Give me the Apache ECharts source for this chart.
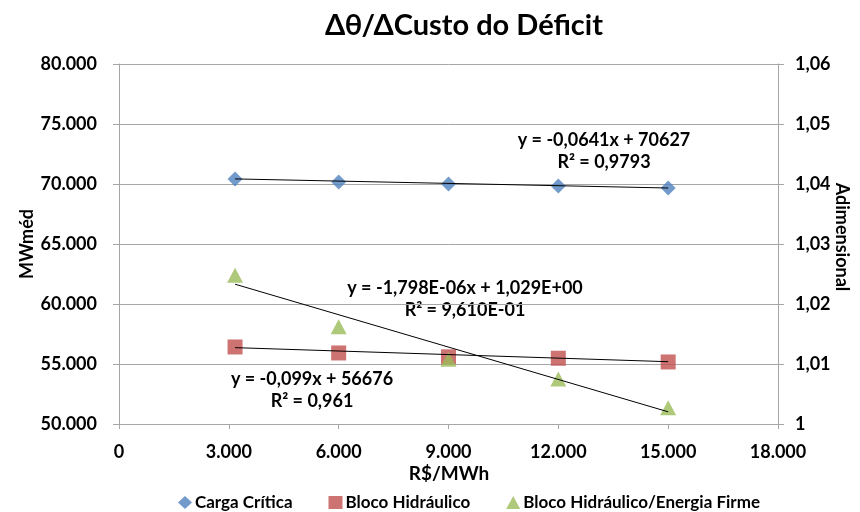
<!DOCTYPE html>
<html>
<head>
<meta charset="utf-8">
<script src="https://cdn.jsdelivr.net/npm/echarts@6/dist/echarts.min.js"></script>
<style>
  html, body { margin: 0; padding: 0; background: #fff; }
  #chart { width: 860px; height: 512px; }
</style>
</head>
<body>
<div id="chart"></div>
<script>
// valores
var custo = [3170, 6000, 9000, 12000, 15000];
var cargaCritica = [70420, 70170, 70000, 69830, 69670];
var blocoHidraulico = [56420, 55920, 55600, 55480, 55170];
var blocoFirme = [1.0248, 1.0162, 1.0108, 1.0075, 1.0027];

// linhas de tendência (coeficientes das equações do gráfico)
var tendCarga = [-0.0641, 70627];
var tendBloco = [-0.099, 56676];
var tendFirme = [-1.798e-6, 1.029];

var nomes = ['Carga Crítica', 'Bloco Hidráulico', 'Bloco Hidráulico/Energia Firme'];
var cores = ['#4F81BD', '#C0504D', '#9BBB59'];

function pares(ys) {
    return custo.map(function (x, i) { return [x, ys[i]]; });
}
function tendencia(c) {
    var x0 = custo[0], x1 = custo[custo.length - 1];
    return [[x0, c[0] * x0 + c[1]], [x1, c[0] * x1 + c[1]]];
}
function milhar(v) {
    return String(Math.round(v)).replace(/\B(?=(\d{3})+(?!\d))/g, '.');
}

var fonte = 'Lato';
var corTexto = '#000';
var cinza = '#A6A6A6';

var chart = echarts.init(document.getElementById('chart'));

var trendStyle = { color: '#000', width: 1 };
var rotulo = { fontSize: 18, fontWeight: 'bold', color: corTexto, fontFamily: fonte };

function texto(x, y, t, tam, rot) {
    return {
        type: 'text', x: x, y: y, rotation: rot || 0,
        style: { text: t, align: 'center', verticalAlign: 'middle', lineHeight: 22,
                 font: 'bold ' + tam + 'px Lato', fill: corTexto }
    };
}

chart.setOption({
    animation: false,
    textStyle: { fontFamily: fonte, fontWeight: 'bold' },
    grid: { left: 119, right: 82, top: 64, bottom: 88 },
    legend: {
        top: 494,
        left: 178,
        padding: 0,
        itemGap: 36,
        itemWidth: 14,
        itemHeight: 13,
        data: [
            { name: nomes[0], icon: 'diamond' },
            { name: nomes[1], icon: 'rect' },
            { name: nomes[2], icon: 'triangle' }
        ],
        textStyle: { fontSize: 17, fontWeight: 'bold', color: corTexto, fontFamily: fonte, padding: [0, 0, 0, -2] }
    },
    xAxis: {
        type: 'value',
        min: 0, max: 18000, interval: 3000,
        axisLine: { lineStyle: { color: cinza } },
        axisTick: { show: true, lineStyle: { color: cinza }, length: 5 },
        splitLine: { show: false },
        axisLabel: Object.assign({ margin: 19, formatter: milhar }, rotulo)
    },
    yAxis: [{
        type: 'value',
        min: 50000, max: 80000, interval: 5000,
        axisLine: { show: true, lineStyle: { color: cinza } },
        axisTick: { show: true, lineStyle: { color: cinza }, length: 6 },
        splitLine: { lineStyle: { color: cinza } },
        axisLabel: Object.assign({ margin: 22, formatter: milhar }, rotulo)
    }, {
        type: 'value',
        min: 1, max: 1.06, interval: 0.01,
        axisLine: { show: true, lineStyle: { color: cinza } },
        axisTick: { show: true, lineStyle: { color: cinza }, length: 6 },
        splitLine: { show: false },
        axisLabel: Object.assign({
            margin: 17,
            formatter: function (v) {
                return v === 1 ? '1' : v.toFixed(2).replace('.', ',');
            }
        }, rotulo)
    }],
    series: [{
        name: nomes[0], type: 'scatter', symbol: 'diamond', symbolSize: 15,
        itemStyle: { color: cores[0] }, data: pares(cargaCritica), z: 3
    }, {
        name: nomes[1], type: 'scatter', symbol: 'rect', symbolSize: 15,
        itemStyle: { color: cores[1] }, data: pares(blocoHidraulico), z: 3
    }, {
        name: nomes[2], type: 'scatter', symbol: 'triangle', symbolSize: [16, 15],
        yAxisIndex: 1, itemStyle: { color: cores[2] }, data: pares(blocoFirme), z: 3
    }, {
        type: 'line', data: tendencia(tendCarga), showSymbol: false, silent: true,
        lineStyle: trendStyle, z: 4
    }, {
        type: 'line', data: tendencia(tendBloco), showSymbol: false, silent: true,
        lineStyle: trendStyle, z: 4
    }, {
        type: 'line', data: tendencia(tendFirme), yAxisIndex: 1, showSymbol: false, silent: true,
        lineStyle: trendStyle, z: 4
    }],
    graphic: [
        texto(464, 26, 'Δθ/ΔCusto do Déficit', 29),
        // nomes dos eixos
        texto(449, 474, 'R$/MWh', 19),
        texto(27, 244, 'MWméd', 18, Math.PI / 2),
        texto(842, 237, 'Adimensional', 18, -Math.PI / 2),
        // equações das tendências
        texto(604, 151, 'y = -0,0641x + 70627\nR² = 0,9793', 18),
        texto(465, 299, 'y = -1,798E-06x + 1,029E+00\nR² = 9,610E-01', 18),
        texto(312, 390, 'y = -0,099x + 56676\nR² = 0,961', 18)
    ]
});
</script>
</body>
</html>
